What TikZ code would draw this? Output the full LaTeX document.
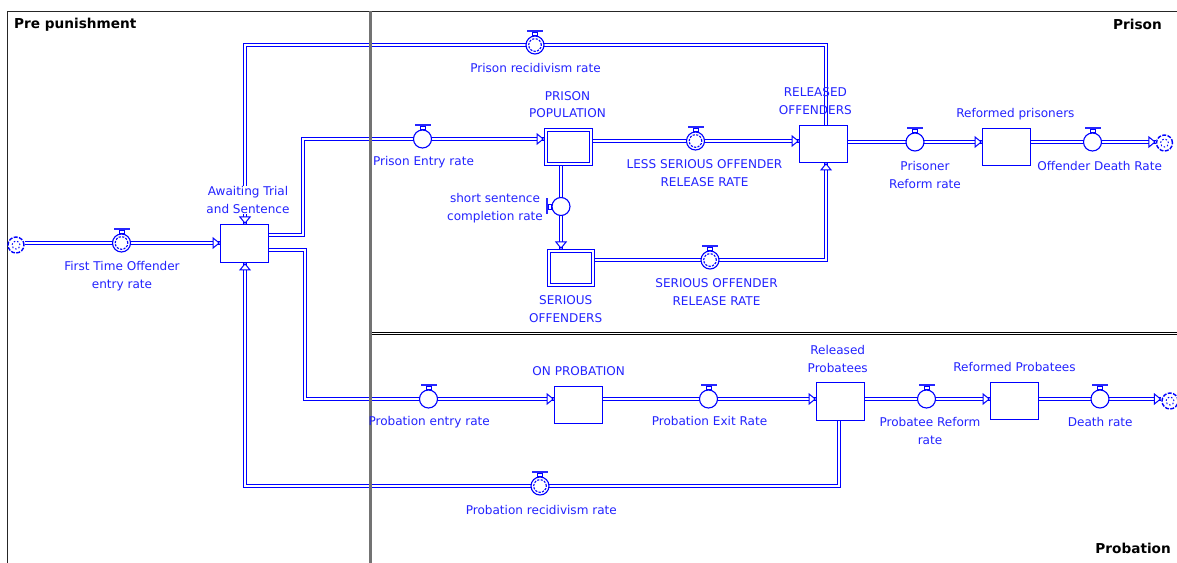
\documentclass[tikz,border=0pt]{standalone}
\usepackage{fontspec}
\setmainfont{DejaVu Sans}
\usetikzlibrary{arrows.meta,calc,backgrounds}
\definecolor{fb}{RGB}{0,0,255}
\definecolor{tb}{RGB}{35,35,255}
\begin{document}
\begin{tikzpicture}[x=1bp,y=-1bp,
  flow/.style={draw=fb, line width=1bp, double=white, double distance=2bp},
  tip/.style={draw=fb, line width=1bp, -{Triangle[open,fill=white,length=7.5bp,width=12bp]}},
  stock/.style={draw=fb, line width=1bp, fill=white, minimum width=48bp, minimum height=37bp, inner sep=0pt},
  conv/.style={draw=fb, line width=1bp, double=white, double distance=2bp, fill=white, minimum width=45bp, minimum height=34bp, inner sep=0pt},
  valve/.style={circle, draw=fb, line width=1.1bp, fill=white, minimum size=18bp, inner sep=0pt},
  lbl/.style={text=tb, font=\fontsize{12.1}{17.5}\selectfont, align=center, inner sep=1pt},
  head/.style={font=\fontsize{13.7}{16}\selectfont\bfseries, inner sep=0pt},
  cloudc/.style={circle, draw=fb, line width=1.4bp, dash pattern=on 4bp off 1.4bp, fill=white, minimum size=16bp, inner sep=0pt}
]
\useasboundingbox (0,0) rectangle (1177,563);
% frame
\draw[black!85, line width=1bp] (7.5,563) -- (7.5,11.5) -- (1177,11.5);
\draw[gray!90!black, line width=3bp] (370.5,11.5) -- (370.5,563);
\draw[black, line width=0.8bp] (372,332.5) -- (1177,332.5) (372,334.5) -- (1177,334.5);
% headings
\node[head, anchor=base west] (hpre) at (14,28.3) {Pre punishment};
\node[head, anchor=base east] (hpri) at (1162,29.3) {Prison};
\node[head, anchor=base east] (hpro) at (1171,553.5) {Probation};
% stocks
\node[stock, minimum height=38bp] (await) at (244.5,243.5) {};
\node[conv] (pp) at (568.5,147) {};
\node[conv, minimum width=44bp] (so) at (571,268) {};
\node[stock] (ro) at (823.5,144) {};
\node[stock] (rp) at (1006.5,147) {};
\node[stock] (onp) at (578.5,405) {};
\node[stock, minimum height=38bp] (rpb) at (840.5,401.5) {};
\node[stock] (rfp) at (1014.5,401) {};
% clouds
\node[cloudc] (src) at (16,245) {};
\node[cloudc] (snk1) at (1164.5,143) {};
\node[cloudc] (snk2) at (1170,401) {};
\foreach \c in {src,snk1,snk2} \draw[fb, line width=1bp, dash pattern=on 1.5bp off 2bp] (\c) circle[radius=4bp];
% corners
\coordinate (cA) at (303,235);
\coordinate (cB) at (303,139);
\coordinate (cC) at (305,250);
\coordinate (cD) at (305,399);
\coordinate (cE) at (826,45);
\coordinate (cF) at (245,45);
\coordinate (cG) at (826,260);
\coordinate (cH) at (839,486);
\coordinate (cI) at (245,486);
% valves
\node[valve] (ft) at (121.5,243) {};
\node[valve] (pe) at (422.5,139) {};
\node[valve] (ls) at (695.5,141) {};
\node[valve] (ssc) at (561,206.5) {};
\node[valve] (sov) at (710,260) {};
\node[valve] (prv) at (535,45) {};
\node[valve] (prr) at (915,142) {};
\node[valve] (odr) at (1092.5,142) {};
\node[valve] (pen) at (428.5,399) {};
\node[valve] (pex) at (708.5,399) {};
\node[valve] (pbr) at (926.5,399) {};
\node[valve] (dr) at (1100,399) {};
\node[valve] (pbv) at (540,486) {};
\foreach \v in {ft,pe,ls,sov,prv,prr,odr,pen,pex,pbr,dr,pbv} {
  \fill[fb!85] ($(\v.north)+(-8,-3)$) rectangle ($(\v.north)+(8,-5.5)$);
  \draw[fb, line width=0.8bp, fill=white] ($(\v.north)+(-2.5,0)$) rectangle ($(\v.north)+(2.5,-3)$);
}
\fill[fb!85] ($(ssc.west)+(-3,-8)$) rectangle ($(ssc.west)+(-5.5,8)$);
\draw[fb, line width=0.8bp, fill=white] ($(ssc.west)+(0,-2.5)$) rectangle ($(ssc.west)+(-3,2.5)$);
\foreach \v in {ft,ls,sov,prv,pbv} \draw[fb, line width=1.1bp, dash pattern=on 2.2bp off 1.3bp] (\v) circle[radius=6.3bp];
% flows
\begin{scope}[on background layer]
\draw[flow] (src.east |- ft) -- (await.west |- ft);
\draw[flow] (await.east |- cA) -- (cA) -- (cB) -- (pp.west |- cB);
\draw[flow] (pp.east |- ls) -- (ro.west |- ls);
\draw[flow] (pp.south -| ssc) -- (so.north -| ssc);
\draw[flow] (so.east |- cG) -- (cG) -- (ro.south -| cG);
\draw[flow] (ro.north -| cE) -- (cE) -- (cF) -- (await.north -| cF);
\draw[flow] (ro.east |- prr) -- (rp.west |- prr);
\draw[flow] (rp.east |- odr) -- (snk1.west |- odr);
\draw[flow] (await.east |- cC) -- (cC) -- (cD) -- (onp.west |- cD);
\draw[flow] (onp.east |- pex) -- (rpb.west |- pex);
\draw[flow] (rpb.east |- pbr) -- (rfp.west |- pbr);
\draw[flow] (rfp.east |- dr) -- (snk2.west |- dr);
\draw[flow] (rpb.south -| cH) -- (cH) -- (cI) -- (await.south -| cI);
\end{scope}
% arrow tips
\draw[tip] ($(await.west |- ft)+(-2,0)$) -- (await.west |- ft);
\draw[tip] ($(pp.west |- cB)+(-3.5,0)$) -- ($(pp.west |- cB)+(-1.5,0)$);
\draw[tip] ($(ro.west |- ls)+(-2,0)$) -- (ro.west |- ls);
\draw[tip] ($(so.north -| ssc)+(0,-3.5)$) -- ($(so.north -| ssc)+(0,-1.5)$);
\draw[tip] ($(ro.south -| cG)+(0,2)$) -- (ro.south -| cG);
\draw[tip] ($(await.north -| cF)+(0,-2)$) -- (await.north -| cF);
\draw[tip] ($(rp.west |- prr)+(-2,0)$) -- (rp.west |- prr);
\draw[tip] ($(snk1.west |- odr)+(-2,0)$) -- (snk1.west |- odr);
\draw[tip] ($(onp.west |- cD)+(-2,0)$) -- (onp.west |- cD);
\draw[tip] ($(rpb.west |- pex)+(-2,0)$) -- (rpb.west |- pex);
\draw[tip] ($(rfp.west |- pbr)+(-2,0)$) -- (rfp.west |- pbr);
\draw[tip] ($(snk2.west |- dr)+(-2,0)$) -- (snk2.west |- dr);
\draw[tip] ($(await.south -| cI)+(0,2)$) -- (await.south -| cI);
% labels
\node[lbl] (lft) at (122,276) {First Time Offender\\entry rate};
\node[lbl, fill=white] (law) at (248,200) {Awaiting Trial\\and Sentence};
\node[lbl] (lprv) at (535.5,68.5) {Prison recidivism rate};
\node[lbl] (lpe) at (423.5,162.5) {Prison Entry rate};
\node[lbl] (lpp) at (567.5,104.5) {PRISON\\POPULATION};
\node[lbl] (lls) at (704.5,173) {LESS SERIOUS OFFENDER\\RELEASE RATE};
\node[lbl] (lro) at (815.4,101.3) {RELEASED\\OFFENDERS};
\node[lbl] (lssc) at (495,208) {short sentence\\completion rate};
\node[lbl] (lso) at (565.7,309) {SERIOUS\\OFFENDERS};
\node[lbl] (lsov) at (716.5,292) {SERIOUS OFFENDER\\RELEASE RATE};
\node[lbl] (lprr) at (925,175) {Prisoner\\Reform rate};
\node[lbl] (lrp) at (1015.4,113.8) {Reformed prisoners};
\node[lbl] (lodr) at (1099.7,166) {Offender Death Rate};
\node[lbl] (lonp) at (578.7,370.7) {ON PROBATION};
\node[lbl] (lpen) at (429.2,422.5) {Probation entry rate};
\node[lbl] (lpex) at (709.5,421.5) {Probation Exit Rate};
\node[lbl] (lrpb) at (837.7,359.2) {Released\\Probatees};
\node[lbl] (lpbr) at (930,431) {Probatee Reform\\rate};
\node[lbl] (lrfp) at (1014.5,366.7) {Reformed Probatees};
\node[lbl] (ldr) at (1100.2,422.3) {Death rate};
\node[lbl] (lpbv) at (541.3,509.8) {Probation recidivism rate};
\end{tikzpicture}
\end{document}
